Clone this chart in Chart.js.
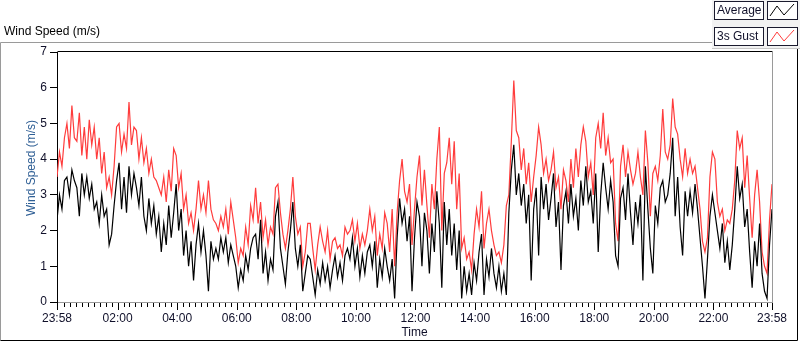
<!DOCTYPE html>
<html>
<head>
<meta charset="utf-8">
<script src="https://cdn.jsdelivr.net/npm/chart.js@4.4.0/dist/chart.umd.min.js"></script>
<style>
  html, body { margin: 0; padding: 0; background: #fff; }
  #wrap { width: 800px; height: 342px; }
</style>
</head>
<body>
<div id="wrap"><canvas id="windChart" width="800" height="342"></canvas></div>
<script>
// samples every 5 minutes, starting 23:58
const sampleStep = 5;

const avgSpeed = [
  2.3, 3.0, 2.6, 3.4, 3.5, 3.0, 3.7, 3.4,
  3.2, 2.4, 3.6, 3.0, 3.5, 2.9, 3.3, 2.6,
  2.8, 2.2, 3.0, 2.4, 2.6, 1.6, 1.9, 2.7,
  3.4, 3.9, 2.6, 3.5, 2.5, 3.8, 3.0, 3.6,
  3.2, 2.7, 3.5, 2.4, 2.0, 2.9, 2.2, 2.7,
  1.9, 2.4, 1.4, 2.2, 1.6, 2.7, 1.8, 2.5,
  3.3, 2.0, 2.6, 1.3, 2.0, 1.0, 1.7, 0.6,
  1.6, 2.2, 1.4, 2.0, 1.3, 0.3, 1.7, 1.2,
  1.5, 1.2, 1.8, 1.4, 1.8, 1.1, 1.6, 1.3,
  1.0, 0.4, 0.9, 0.6, 1.3, 0.9, 1.5, 1.8,
  1.9, 1.2, 2.3, 0.8, 1.4, 0.6, 1.2, 0.9,
  2.4, 2.8, 1.5, 1.0, 0.5, 1.4,
  2.0, 2.8, 1.5, 1.0, 1.6, 0.3, 0.8, 1.3,
  1.2, 0.7, 0.2, 0.9, 0.5, 1.1, 0.6, 1.0,
  0.4, 0.9, 1.3, 0.7, 1.1, 0.6, 1.3, 1.5,
  1.2, 1.8, 1.0, 1.5, 0.7, 1.3, 0.8, 1.4,
  1.6, 1.0, 1.7, 0.4, 1.2, 0.7, 1.5, 1.0, 0.6,
  1.2, 0.1, 1.8, 2.9, 2.2, 2.6, 1.7, 2.4,
  0.3, 1.8, 2.8, 2.4, 1.0, 2.5, 2.0,
  0.8, 2.2, 1.4, 3.1, 2.2, 0.4, 2.8, 1.6,
  2.6, 1.3, 2.2, 0.9, 2.0,
  0.1, 1.0, 0.3, 0.8, 0.2, 1.1, 0.6, 1.4,
  1.9, 0.2, 1.2, 0.7, 1.5, 0.8, 0.4, 1.0,
  0.3, 0.8, 0.2, 2.5, 3.7, 4.4, 3.0, 3.6,
  2.7, 3.3, 2.2, 3.0, 0.6, 2.6, 3.2, 1.3,
  3.5, 2.6, 3.3, 2.3, 2.9, 3.6, 2.1, 2.8,
  0.9, 2.7, 3.1, 2.2, 3.3, 2.4, 2.9, 2.0,
  3.4, 2.7, 3.8, 2.8, 3.1, 2.2, 3.6, 1.4,
  3.0, 3.9, 3.2, 2.6, 3.4,
  2.8, 1.3, 1.0, 2.9, 3.2, 2.3, 3.6, 2.5,
  1.6, 2.8, 2.2, 3.0, 0.6, 3.8, 2.6,
  1.5, 0.8, 2.7, 2.2, 3.2, 3.4, 2.8, 3.0,
  3.6, 4.6, 2.4, 3.5, 2.1, 1.3, 3.1, 2.4,
  3.1, 2.5, 3.3, 2.6, 1.8, 1.0, 0.1, 1.2,
  2.4, 3.0, 2.5, 2.0, 1.5, 2.2, 1.1, 1.7,
  0.9, 1.6, 2.6, 3.8, 2.9, 3.3, 2.1, 2.6,
  1.4, 0.4, 1.7, 1.0, 2.2, 0.8, 0.3, 0.1, 1.6, 2.6
];

const gustSpeed = [
  3.5, 4.2, 3.8, 4.6, 5.0, 4.3, 5.5, 4.6,
  4.5, 5.3, 4.1, 4.9, 4.0, 5.1, 4.4, 4.9,
  4.0, 4.6, 3.6, 4.2, 3.2, 3.5, 3.0, 3.8,
  4.9, 5.0, 4.2, 4.7, 4.3, 5.6, 4.4, 4.9,
  4.8, 4.0, 4.6, 3.9, 4.3, 3.6, 4.0, 3.5,
  3.4, 3.2, 3.0, 3.5, 2.8, 3.7, 3.1, 4.3,
  4.1, 3.2, 3.6, 2.6, 3.0, 2.2, 2.5, 2.0,
  2.6, 3.4, 2.6, 3.0, 2.5, 3.4, 2.6, 2.3,
  2.2, 2.0, 2.4, 2.1, 2.6, 1.9, 2.8, 2.3,
  1.8, 1.1, 1.5, 1.3, 2.1, 1.6, 2.7, 2.3,
  3.2, 2.2, 2.8, 1.8, 2.3, 1.6, 2.1, 1.9,
  3.2, 3.3, 2.5, 1.9, 1.5, 2.0,
  2.6, 3.5, 2.4, 1.9, 2.1, 1.0, 1.4, 2.2,
  2.2, 1.5, 0.9, 1.6, 2.1, 1.7, 1.4, 2.0,
  1.2, 1.7, 1.8, 1.5, 1.6, 1.3, 2.1, 1.9,
  2.0, 2.3, 1.7, 2.2, 1.5, 1.9, 1.6, 2.0,
  2.6, 2.0, 2.4, 1.3, 1.9, 1.5, 2.5, 2.2, 1.4,
  2.6, 1.0, 2.5, 3.4, 4.0, 3.1, 2.8, 3.3,
  1.6, 2.6, 3.5, 4.1, 2.7, 3.7, 2.7,
  1.8, 3.3, 2.6, 4.0, 4.9, 2.0, 3.6, 3.9,
  4.6, 3.3, 4.5, 2.6, 3.6,
  1.5, 1.8, 1.2, 1.4, 0.9, 1.9, 2.6, 2.1,
  3.1, 1.5, 2.2, 2.6, 2.0, 1.6, 1.3, 1.4,
  1.1, 1.6, 2.7, 3.0, 4.5, 6.2, 4.8, 4.6,
  3.7, 4.3, 3.3, 3.9, 2.8, 3.5, 4.1, 4.9,
  4.4, 3.6, 4.0, 3.4, 3.7, 4.2, 3.2, 3.5,
  2.6, 3.7, 3.4, 2.8, 4.0, 3.2, 4.3, 3.5,
  4.4, 4.9, 4.5, 3.5, 3.9, 3.0, 4.6, 5.0,
  4.3, 5.3, 4.1, 4.6, 3.9,
  4.0, 2.2, 1.7, 3.8, 4.4, 3.5, 4.2, 3.7,
  3.3, 3.6, 4.2, 3.5, 3.0, 4.8, 3.9,
  2.4, 3.6, 3.8, 3.4, 4.1, 5.4, 4.2, 4.0,
  4.4, 5.7, 4.9, 4.7, 4.0, 3.5, 4.3, 3.6,
  4.0, 3.6, 3.8, 3.2, 2.6, 1.7, 1.4, 1.8,
  3.5, 4.2, 4.0, 2.8, 2.4, 2.6, 2.0, 2.3,
  2.2, 2.6, 3.4, 4.8, 4.3, 4.6, 3.2, 4.1,
  2.9, 1.8, 3.0, 3.7, 2.8, 1.4, 1.0, 0.8, 2.3, 3.3
];

// x axis in minutes after 23:58
const majorTickMinutes = [0, 122, 242, 362, 482, 602, 722, 842, 962, 1082, 1202, 1322, 1440];
const majorTickLabels = ['23:58', '02:00', '04:00', '06:00', '08:00', '10:00', '12:00',
  '14:00', '16:00', '18:00', '20:00', '22:00', '23:58'];
const minorTickStep = 12;

const seriesNames = ['Average', '3s Gust'];
const seriesColors = ['#000000', '#ff3c3c'];

const FONT = '"Liberation Sans", Arial, sans-serif';
const TEXT_DARK = '#10102a';

function toPoints(arr) {
  return arr.map((v, i) => ({ x: i * sampleStep, y: v }));
}

const framePlugin = {
  id: 'frame',
  beforeDraw(chart) {
    const c = chart.ctx;
    c.save();
    // outer panel: light top/left, dark bottom/right
    c.lineWidth = 1;
    c.strokeStyle = '#9a9a9a';
    c.beginPath();
    c.moveTo(0.5, 340.5); c.lineTo(0.5, 42.5); c.lineTo(797.5, 42.5);
    c.stroke();
    c.strokeStyle = '#000';
    c.beginPath();
    c.moveTo(0.5, 340.5); c.lineTo(797.5, 340.5); c.lineTo(797.5, 42.5);
    c.stroke();

    // chart title
    c.fillStyle = '#000';
    c.font = '12px ' + FONT;
    c.textBaseline = 'middle';
    c.textAlign = 'left';
    c.fillText('Wind Speed (m/s)', 4, 32);
    c.restore();
  },
  afterDraw(chart) {
    const c = chart.ctx;
    const area = chart.chartArea;
    const xs = chart.scales.x;
    c.save();

    // top and right plot border
    c.lineWidth = 1;
    c.strokeStyle = '#000';
    c.beginPath();
    c.moveTo(Math.round(area.left) + 0.5, Math.round(area.top) - 0.5);
    c.lineTo(Math.round(area.right) + 0.5, Math.round(area.top) - 0.5);
    c.stroke();
    c.strokeStyle = '#9a9a9a';
    c.beginPath();
    c.moveTo(Math.round(area.right) + 0.5, Math.round(area.top) - 0.5);
    c.lineTo(Math.round(area.right) + 0.5, Math.round(area.bottom) + 0.5);
    c.stroke();

    // x tick marks
    c.strokeStyle = '#000';
    const bottom = Math.round(area.bottom) + 1;
    const drawTick = (m, len) => {
      const px = Math.round(xs.getPixelForValue(m)) + 0.5;
      c.beginPath();
      c.moveTo(px, bottom);
      c.lineTo(px, bottom + len);
      c.stroke();
    };
    for (let m = 2; m < 1440; m += minorTickStep) {
      if (majorTickMinutes.some(t => Math.abs(t - m) < 4)) continue;
      drawTick(m, 4);
    }
    majorTickMinutes.forEach(m => drawTick(m, 7));

    // axis titles
    c.font = '12px ' + FONT;
    c.textAlign = 'center';
    c.textBaseline = 'middle';
    c.fillStyle = TEXT_DARK;
    c.fillText('Time', (area.left + area.right) / 2, 333);
    c.save();
    c.translate(32, 168);
    c.rotate(-Math.PI / 2);
    c.fillStyle = '#2f5f95';
    c.fillText('Wind Speed (m/s)', 0, 0);
    c.restore();

    // legend panel
    c.fillStyle = '#f2f2f2';
    c.fillRect(712, 0, 88, 49);
    c.strokeStyle = '#c8c8c8';
    c.beginPath();
    c.moveTo(712, 48.5); c.lineTo(800, 48.5);
    c.stroke();
    chart.data.datasets.forEach((ds, i) => {
      const y0 = 1 + i * 26;
      c.fillStyle = '#fff';
      c.fillRect(714, y0, 49, 18);
      c.fillRect(767, y0, 30, 18);
      c.strokeStyle = '#1a1a2e';
      c.strokeRect(714.5, y0 + 0.5, 49, 18);
      c.strokeRect(767.5, y0 + 0.5, 30, 18);
      c.fillStyle = TEXT_DARK;
      c.textAlign = 'left';
      c.fillText(ds.label, 717, y0 + 10);
      c.strokeStyle = ds.borderColor;
      c.beginPath();
      c.moveTo(770, y0 + 15);
      c.lineTo(777, y0 + 5);
      c.lineTo(784, y0 + 14);
      c.lineTo(794, y0 + 3);
      c.stroke();
    });
    c.restore();
  }
};

const ctx = document.getElementById('windChart').getContext('2d');

const windChart = new Chart(ctx, {
  type: 'line',
  data: {
    datasets: [{
      label: seriesNames[0],
      data: toPoints(avgSpeed),
      borderColor: seriesColors[0],
      borderWidth: 1.2,
      pointRadius: 0,
      tension: 0
    }, {
      label: seriesNames[1],
      data: toPoints(gustSpeed),
      borderColor: seriesColors[1],
      borderWidth: 1.2,
      pointRadius: 0,
      tension: 0
    }]
  },
  options: {
    responsive: false,
    animation: false,
    devicePixelRatio: 1,
    layout: { padding: { left: 0, top: 52, right: 28, bottom: 0 } },
    plugins: {
      legend: { display: false },
      tooltip: { enabled: false }
    },
    scales: {
      x: {
        type: 'linear',
        min: 0,
        max: 1440,
        afterFit: s => { s.height = 40; },
        afterBuildTicks: s => { s.ticks = majorTickMinutes.map(v => ({ value: v })); },
        border: { display: true, color: '#9a9a9a' },
        grid: { drawOnChartArea: false, tickLength: 7, tickColor: 'rgba(0,0,0,0)' },
        ticks: {
          autoSkip: false,
          maxRotation: 0,
          padding: 2,
          color: TEXT_DARK,
          font: { family: FONT, size: 12 },
          callback: v => majorTickLabels[majorTickMinutes.indexOf(v)] || ''
        }
      },
      y: {
        min: 0,
        max: 7,
        afterFit: s => { s.width = 57; },
        border: { display: true, color: '#000' },
        grid: { drawOnChartArea: false, tickLength: 7, tickColor: '#000' },
        ticks: {
          stepSize: 1,
          padding: 3,
          color: TEXT_DARK,
          font: { family: FONT, size: 12 }
        }
      }
    }
  },
  plugins: [framePlugin]
});
</script>
</body>
</html>
